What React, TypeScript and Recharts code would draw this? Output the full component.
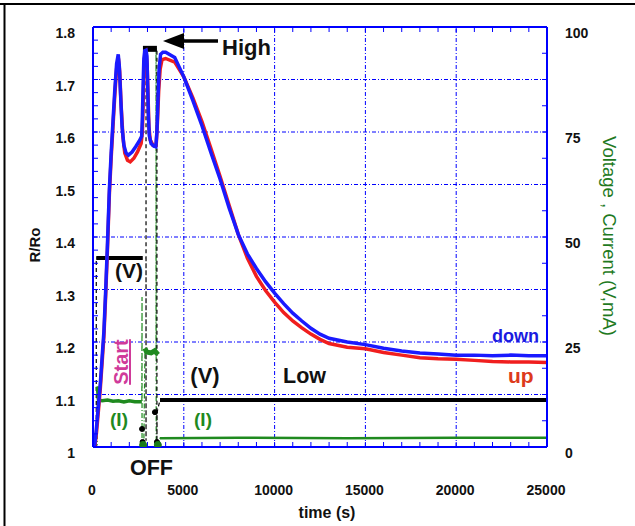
import React from 'react';
import { ComposedChart, Line, XAxis, YAxis, ReferenceLine } from 'recharts';

// ---------- data (time in s) ----------
// R/Ro, sensor "down" (blue)
const downSeries: [number, number][] = [
  [0, 1.0], [100, 1.005], [200, 1.04], [300, 1.08], [400, 1.12], [500, 1.17], [600, 1.22],
  [700, 1.3], [800, 1.39], [900, 1.49], [1000, 1.56], [1100, 1.62], [1200, 1.68], [1300, 1.73],
  [1390, 1.748], [1450, 1.725], [1520, 1.67], [1600, 1.61], [1700, 1.575], [1820, 1.56],
  [1950, 1.556], [2150, 1.562], [2350, 1.572], [2550, 1.583], [2680, 1.592], [2720, 1.63],
  [2760, 1.69], [2800, 1.74], [2850, 1.755], [2920, 1.756], [2970, 1.745], [3010, 1.69],
  [3050, 1.63], [3100, 1.593], [3200, 1.578], [3350, 1.573], [3460, 1.572], [3520, 1.6],
  [3580, 1.665], [3640, 1.72], [3720, 1.748], [3850, 1.752], [4000, 1.752], [4500, 1.742],
  [5000, 1.705], [5500, 1.66], [6000, 1.612], [6500, 1.56], [7000, 1.51], [7500, 1.455],
  [8000, 1.405], [8500, 1.368], [9000, 1.34], [9500, 1.315], [10000, 1.293], [10500, 1.273],
  [11000, 1.255], [11500, 1.24], [12000, 1.226], [12500, 1.215], [13000, 1.207], [14000, 1.2],
  [15000, 1.195], [16000, 1.188], [17000, 1.183], [18000, 1.179], [19000, 1.177], [20000, 1.175],
  [21000, 1.175], [22000, 1.174], [23000, 1.175], [24000, 1.174], [25000, 1.174],
];
// R/Ro, sensor "up" (red)
const upSeries: [number, number][] = [
  [0, 1.0], [100, 1.0], [200, 1.03], [300, 1.07], [400, 1.11], [500, 1.16], [600, 1.21],
  [700, 1.29], [800, 1.38], [900, 1.48], [1000, 1.55], [1100, 1.61], [1200, 1.67], [1300, 1.72],
  [1400, 1.74], [1470, 1.715], [1550, 1.65], [1650, 1.59], [1750, 1.56], [1900, 1.546],
  [2050, 1.543], [2250, 1.55], [2450, 1.562], [2650, 1.578], [2720, 1.6], [2760, 1.65],
  [2800, 1.71], [2850, 1.745], [2920, 1.75], [2980, 1.73], [3030, 1.67], [3080, 1.61],
  [3150, 1.585], [3300, 1.575], [3480, 1.575], [3550, 1.62], [3620, 1.68], [3700, 1.72],
  [3800, 1.738], [4000, 1.74], [4500, 1.733], [5000, 1.705], [5500, 1.665], [6000, 1.62],
  [6500, 1.568], [7000, 1.515], [7500, 1.46], [8000, 1.405], [8500, 1.36], [9000, 1.325],
  [9500, 1.298], [10000, 1.276], [10500, 1.256], [11000, 1.24], [11500, 1.227], [12000, 1.215],
  [12500, 1.205], [13000, 1.197], [14000, 1.19], [15000, 1.187], [16000, 1.18], [17000, 1.175],
  [18000, 1.17], [19000, 1.168], [20000, 1.167], [21000, 1.165], [22000, 1.163], [23000, 1.162],
  [24000, 1.162], [25000, 1.161],
];
// Voltage (V) – full switching path (dashed connectors)
const voltagePath: [number, number][] = [
  [180, 0], [180, 45], [2740, 45], [2920, 45], [2920, 1.5], [2920, 94.8], [3520, 94.8],
  [3520, 1.2], [3530, 8.3], [3690, 11.2], [25000, 11.2],
];
const voltageStart: [number, number][] = [[180, 45], [1000, 45], [2000, 45], [2740, 45]];
const voltageHigh: [number, number][] = [[2750, 94.8], [3100, 94.8], [3520, 94.8]];
const voltageLow: [number, number][] = [[3690, 11.2], [10000, 11.2], [17000, 11.2], [25000, 11.2]];
const voltageOff: [number, number][] = [[2700, 4.3], [2730, 1.2], [3410, 8.3], [3520, 1.2]];
// Current (mA)
const currentPath: [number, number][] = [
  [0, 0.5], [230, 0.5], [240, 14.4], [300, 11.2], [2690, 10.8], [2700, 35.7], [2700, 0.5],
  [2800, 0.5], [2860, 22.6], [3470, 22.6], [3470, 95], [3480, 0.5], [3600, 0.5], [3690, 2.1],
  [25000, 2.1],
];
const currentStart: [number, number][] = [
  [240, 14.4], [300, 11.3], [500, 11.0], [800, 11.2], [1100, 10.9], [1400, 11.0], [1700, 10.7],
  [2000, 11.0], [2300, 10.8], [2690, 10.8],
];
const currentHigh: [number, number][] = [[2860, 23.5], [2950, 22.6], [3200, 22.4], [3400, 22.9], [3580, 22.0]];
const currentLow: [number, number][] = [[3690, 2.1], [8000, 2.2], [14000, 2.1], [20000, 2.2], [25000, 2.2]];
const currentOff: [number, number][] = [[2760, 0.5], [3570, 0.5]];

// ---------- axes ----------
const X_MAJOR = [0, 5000, 10000, 15000, 20000, 25000];
const X_LABELS = ['0', '5000', '10000', '15000', '20000', '25000'];
const X_TICKS = Array.from({ length: 26 }, (_, i) => i * 1000);
const L_MAJOR = [1, 1.1, 1.2, 1.3, 1.4, 1.5, 1.6, 1.7, 1.8];
const L_LABELS = ['1', '1.1', '1.2', '1.3', '1.4', '1.5', '1.6', '1.7', '1.8'];
const L_TICKS = Array.from({ length: 33 }, (_, i) => 1 + i * 0.025);
const R_MAJOR = [0, 25, 50, 75, 100];
const R_LABELS = ['0', '25', '50', '75', '100'];
const R_TICKS = Array.from({ length: 17 }, (_, i) => i * 6.25);
const GRID_Y = [1.1, 1.2, 1.3, 1.4, 1.5, 1.6, 1.7];
const GRID_X = [5000, 10000, 15000, 20000];

const rows = (p: [number, number][]) => p.map(([t, v]) => ({ t, v }));
const FONT = '"Liberation Sans", Arial, sans-serif';
const BLUE = '#0000ff';

const findLabel = (v: number, major: number[], labels: string[]) => {
  const i = major.findIndex((m) => Math.abs(m - v) < 1e-6);
  return i >= 0 ? labels[i] : null;
};

const tickText = { fontFamily: FONT, fontWeight: 700, fontSize: 14, fill: '#111' };

const LeftTick = (p: any) => {
  const lab = findLabel(p.payload.value, L_MAJOR, L_LABELS);
  if (!lab) return <g />;
  return <text x={p.x} y={p.y + 11} textAnchor="end" {...tickText}>{lab}</text>;
};
const RightTick = (p: any) => {
  const lab = findLabel(p.payload.value, R_MAJOR, R_LABELS);
  if (!lab) return <g />;
  return <text x={p.x} y={p.y + 11} textAnchor="start" {...tickText}>{lab}</text>;
};
const BottomTick = (p: any) => {
  const lab = findLabel(p.payload.value, X_MAJOR, X_LABELS);
  if (!lab) return <g />;
  return <text x={p.x - 1} y={p.y} textAnchor="middle" {...tickText}>{lab}</text>;
};
const NoTick = () => <g />;

const axisLine = { stroke: BLUE, strokeWidth: 2 };
const tickLine = { stroke: BLUE, strokeWidth: 1 };

export default function App() {
  const lineCommon = { dot: false as const, isAnimationActive: false, xAxisId: 'b', type: 'linear' as const, dataKey: 'v' };
  return (
    <div style={{ position: 'absolute', left: 0, top: 0, width: 635, height: 526, background: '#fff' }}>
      <ComposedChart width={635} height={526} margin={{ top: 25, right: 38, bottom: 49, left: 43 }}>
        <XAxis xAxisId="b" type="number" dataKey="t" domain={[0, 25000]} ticks={X_TICKS} interval={0}
          allowDataOverflow tickSize={-5} tickMargin={53} height={30} axisLine={axisLine} tickLine={tickLine} tick={BottomTick} />
        <XAxis xAxisId="top" orientation="top" type="number" dataKey="t" domain={[0, 25000]} ticks={X_TICKS} interval={0}
          allowDataOverflow tickSize={-5} height={2} axisLine={axisLine} tickLine={tickLine} tick={NoTick} />
        <YAxis yAxisId="L" type="number" domain={[1, 1.8]} ticks={L_TICKS} interval={0} allowDataOverflow
          tickSize={-5} tickMargin={23} width={50} axisLine={axisLine} tickLine={tickLine} tick={LeftTick} />
        <YAxis yAxisId="R" orientation="right" type="number" domain={[0, 100]} ticks={R_TICKS} interval={0} allowDataOverflow
          tickSize={-5} tickMargin={23} width={50} axisLine={axisLine} tickLine={tickLine} tick={RightTick} />

        {GRID_Y.map((y) => (
          <ReferenceLine key={'gy' + y} xAxisId="b" yAxisId="L" y={y} stroke={BLUE} strokeWidth={1} strokeDasharray="4 2 1 2" />
        ))}
        {GRID_X.map((x) => (
          <ReferenceLine key={'gx' + x} xAxisId="b" yAxisId="L" x={x} stroke={BLUE} strokeWidth={1} strokeDasharray="4 2 1 2" />
        ))}

        <Line {...lineCommon} yAxisId="R" data={rows(currentPath)} stroke="#1f8a1f" strokeWidth={1.2} strokeDasharray="5 2 1 2" />
        <Line {...lineCommon} yAxisId="R" data={rows(voltagePath)} stroke="#000" strokeWidth={1.2} strokeDasharray="4 3" />
        <Line {...lineCommon} yAxisId="R" data={rows(currentStart)} stroke="#1f8a1f" strokeWidth={3.5} />
        <Line {...lineCommon} yAxisId="R" data={rows(currentHigh)} stroke="#1f8a1f" strokeWidth={5} />
        <Line {...lineCommon} yAxisId="R" data={rows(currentLow)} stroke="#1f8a1f" strokeWidth={2.5} />
        <Line {...lineCommon} yAxisId="R" data={rows(voltageStart)} stroke="#000" strokeWidth={4} />
        <Line {...lineCommon} yAxisId="R" data={rows(voltageHigh)} stroke="#000" strokeWidth={6} />
        <Line {...lineCommon} yAxisId="R" data={rows(voltageLow)} stroke="#000" strokeWidth={4} />
        <Line {...lineCommon} yAxisId="R" data={rows(voltageOff)} stroke="none"
          dot={{ r: 2.5, fill: '#000', stroke: '#000' }} />
        <Line {...lineCommon} yAxisId="R" data={rows(currentOff)} stroke="none"
          dot={{ r: 3.5, fill: '#1a7a1a', stroke: '#1a7a1a' }} />

        <Line {...lineCommon} yAxisId="L" data={rows(upSeries)} stroke="#f01e1e" strokeWidth={3.5} />
        <Line {...lineCommon} yAxisId="L" data={rows(downSeries)} stroke="#1a1aff" strokeWidth={3.5} />
      </ComposedChart>

      <svg width={635} height={526} style={{ position: 'absolute', left: 0, top: 0, pointerEvents: 'none' }}
        fontFamily={FONT} fontWeight={700}>
        <line x1={0} y1={4} x2={635} y2={4} stroke="#000" strokeWidth={2} />
        <line x1={4.5} y1={3} x2={4.5} y2={526} stroke="#000" strokeWidth={2} />

        <text transform="translate(40,245) rotate(-90)" textAnchor="middle" fontSize={15} fill="#111">R/Ro</text>
        <text transform="translate(603,236) rotate(90)" textAnchor="middle" fontSize={18.5} fontWeight={400} fill="#1f7a1f">Voltage , Current (V,mA)</text>
        <text x={327} y={518} textAnchor="middle" fontSize={16} fill="#111">time (s)</text>

        <line x1={182} y1={41} x2={218} y2={41} stroke="#000" strokeWidth={3.5} />
        <polygon points="163,41 184,33 184,49" fill="#000" />
        <text x={222} y={55} fontSize={22} fill="#111">High</text>
        <text x={129} y={278} textAnchor="middle" fontSize={21} fill="#111">(V)</text>
        <text transform="translate(128,362) rotate(-90)" textAnchor="middle" fontSize={20} fill="#d03a9a" textDecoration="underline">Start</text>
        <text x={119} y={426} textAnchor="middle" fontSize={19} fill="#1f8a1f">(I)</text>
        <text x={203} y={426} textAnchor="middle" fontSize={19} fill="#1f8a1f">(I)</text>
        <text x={205} y={383} textAnchor="middle" fontSize={22} fill="#111">(V)</text>
        <text x={283} y={383} fontSize={21.5} fill="#111">Low</text>
        <text x={130} y={475} fontSize={21.5} fill="#111">OFF</text>
        <text x={492} y={342} fontSize={18} fill="#1a1ae0">down</text>
        <text x={508} y={383} fontSize={21} fill="#dd3a1c">up</text>
      </svg>
    </div>
  );
}
